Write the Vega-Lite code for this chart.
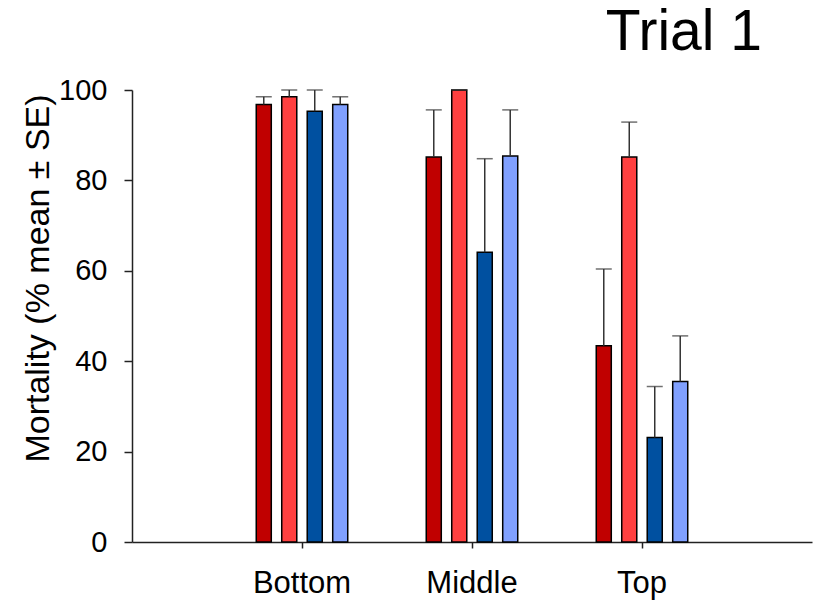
{
  "$schema": "https://vega.github.io/schema/vega-lite/v6.json",
  "width": 680,
  "height": 452,
  "autosize": {"type": "none"},
  "padding": {"left": 132, "top": 90, "right": 7, "bottom": 61},
  "background": "white",
  "config": {
    "view": {"stroke": null},
    "font": "Liberation Sans",
    "axis": {"grid": false, "domainColor": "#222222", "domainWidth": 1.5, "tickColor": "#222222", "tickWidth": 1.5, "labelColor": "black", "titleColor": "black", "labelFont": "Liberation Sans", "titleFont": "Liberation Sans", "titleFontWeight": "normal"}
  },
  "title": {
    "text": "Trial 1",
    "fontSize": 57,
    "fontWeight": "normal",
    "font": "Liberation Sans",
    "color": "black",
    "anchor": "end",
    "frame": "group",
    "baseline": "alphabetic",
    "dx": -50,
    "offset": -31
  },
  "data": {
    "values": [
      {"position": "Bottom", "series": "s1", "mean": 96.8, "upper": 98.5},
      {"position": "Bottom", "series": "s2", "mean": 98.5, "upper": 100},
      {"position": "Bottom", "series": "s3", "mean": 95.3, "upper": 100},
      {"position": "Bottom", "series": "s4", "mean": 96.8, "upper": 98.5},
      {"position": "Middle", "series": "s1", "mean": 85.2, "upper": 95.6},
      {"position": "Middle", "series": "s2", "mean": 100, "upper": 100},
      {"position": "Middle", "series": "s3", "mean": 64.1, "upper": 84.8},
      {"position": "Middle", "series": "s4", "mean": 85.4, "upper": 95.6},
      {"position": "Top", "series": "s1", "mean": 43.4, "upper": 60.4},
      {"position": "Top", "series": "s2", "mean": 85.2, "upper": 92.9},
      {"position": "Top", "series": "s3", "mean": 23.1, "upper": 34.4},
      {"position": "Top", "series": "s4", "mean": 35.5, "upper": 45.6}
    ]
  },
  "encoding": {
    "x": {
      "field": "position",
      "type": "nominal",
      "sort": ["Bottom", "Middle", "Top"],
      "scale": {"paddingInner": 0.4618, "paddingOuter": 0.7309},
      "axis": {"title": null, "labelAngle": 0, "labelFontSize": 31, "tickSize": 6, "labelPadding": 20, "domainWidth": 1.5}
    },
    "xOffset": {
      "field": "series",
      "type": "nominal",
      "sort": ["s1", "s2", "s3", "s4"],
      "scale": {"paddingInner": 0.41, "paddingOuter": 0}
    }
  },
  "layer": [
    {
      "mark": {"type": "bar", "stroke": "black", "strokeWidth": 1.5},
      "encoding": {
        "y": {
          "field": "mean",
          "type": "quantitative",
          "scale": {"domain": [0, 100], "nice": false},
          "axis": {
            "values": [0, 20, 40, 60, 80, 100],
            "title": "Mortality (% mean ± SE)",
            "titleFontSize": 34,
            "labelFontSize": 29,
            "tickSize": 8,
            "labelPadding": 17,
            "titleAngle": -90,
            "titleAlign": "center",
            "titleBaseline": "alphabetic",
            "titleX": -84,
            "titleY": 188
          }
        },
        "color": {
          "field": "series",
          "type": "nominal",
          "scale": {"domain": ["s1", "s2", "s3", "s4"], "range": ["#C00000", "#FF4040", "#0050A0", "#80A0FF"]},
          "legend": null
        }
      }
    },
    {
      "mark": {"type": "rule", "color": "#333333", "strokeWidth": 1.5},
      "encoding": {
        "y": {"field": "mean", "type": "quantitative"},
        "y2": {"field": "upper"}
      }
    },
    {
      "mark": {"type": "tick", "color": "#333333", "thickness": 1.5, "size": 16, "orient": "horizontal"},
      "encoding": {
        "y": {"field": "upper", "type": "quantitative"}
      }
    }
  ]
}
